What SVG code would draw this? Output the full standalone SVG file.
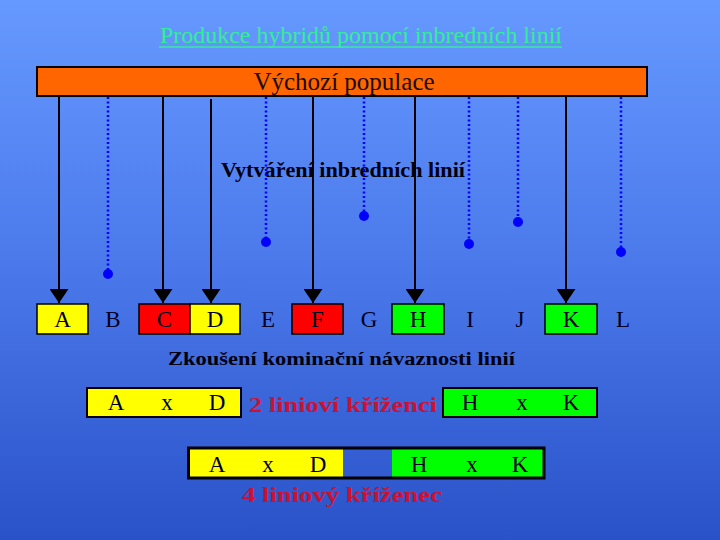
<svg xmlns="http://www.w3.org/2000/svg" width="720" height="540" viewBox="0 0 720 540">
<defs>
<linearGradient id="bg" x1="0" y1="0" x2="0" y2="1">
<stop offset="0" stop-color="#6699ff"/>
<stop offset="0.5" stop-color="#4a78ea"/>
<stop offset="1" stop-color="#2a52c8"/>
</linearGradient>
<marker id="arr" markerUnits="userSpaceOnUse" viewBox="0 0 14 19" refX="14" refY="9.5" markerWidth="14" markerHeight="19" orient="auto">
<path d="M0,0 L14,9.5 L0,19 z" fill="#000"/>
</marker>
</defs>
<style>
.serif{font-family:"Liberation Serif","Times New Roman",serif}
.lt{font-family:"Liberation Serif",serif;font-size:23px;fill:#000022;text-anchor:middle}
.bx{stroke:#000;stroke-width:1.5}
.solid{stroke:#000;stroke-width:2;fill:none;marker-end:url(#arr)}
.dot{stroke:#0000ff;stroke-width:2.5;stroke-dasharray:2 2.5;fill:none}
.end{fill:#0000ff}
.bold{font-family:"Liberation Serif",serif;font-weight:bold;fill:#000011}
.red{font-family:"Liberation Serif",serif;font-weight:bold;font-size:20px;fill:#cc1133}
</style>
<rect width="720" height="540" fill="url(#bg)"/>

<g id="title">
<text class="serif" x="160" y="43" font-size="24" fill="#33ee99" textLength="402" lengthAdjust="spacingAndGlyphs">Produkce hybridů pomocí inbredních linií</text>
<line x1="159" y1="47" x2="562" y2="47" stroke="#33ee99" stroke-width="1.5"/>
</g>

<g id="population">
<rect x="37" y="67" width="610" height="29" fill="#ff6600" stroke="#000" stroke-width="2"/>
<text class="serif" x="344" y="90" font-size="25" fill="#1a0a00" text-anchor="middle">Výchozí populace</text>
</g>

<g id="label-inbred">
<text class="bold" x="221" y="177" font-size="20" textLength="244" lengthAdjust="spacingAndGlyphs">Vytváření inbredních linií</text>
</g>

<g id="connectors">
<line class="solid" x1="59" y1="96" x2="59" y2="303"/>
<line class="solid" x1="163" y1="97" x2="163" y2="303"/>
<line class="solid" x1="211" y1="99" x2="211" y2="303"/>
<line class="solid" x1="313" y1="97" x2="313" y2="303"/>
<line class="solid" x1="415" y1="96" x2="415" y2="303"/>
<line class="solid" x1="566" y1="96" x2="566" y2="303"/>
<line class="dot" x1="108" y1="97" x2="108" y2="270"/>
<circle class="end" cx="108" cy="274" r="5"/>
<line class="dot" x1="266" y1="97" x2="266" y2="238"/>
<circle class="end" cx="266" cy="242" r="5"/>
<line class="dot" x1="364" y1="97" x2="364" y2="212"/>
<circle class="end" cx="364" cy="216" r="5"/>
<line class="dot" x1="469" y1="97" x2="469" y2="240"/>
<circle class="end" cx="469" cy="244" r="5"/>
<line class="dot" x1="518" y1="97" x2="518" y2="218"/>
<circle class="end" cx="518" cy="222" r="5"/>
<line class="dot" x1="621" y1="97" x2="621" y2="248"/>
<circle class="end" cx="621" cy="252" r="5"/>
</g>

<g id="line-A"><rect class="bx" x="37" y="304" width="51" height="30" fill="#ffff00"/><text class="lt" x="62.5" y="327">A</text></g>
<g id="line-B"><text class="lt" x="113" y="327">B</text></g>
<g id="line-C"><rect class="bx" x="139" y="304" width="51" height="30" fill="#ff0000"/><text class="lt" x="164.5" y="327">C</text></g>
<g id="line-D"><rect class="bx" x="190" y="304" width="50" height="30" fill="#ffff00"/><text class="lt" x="215" y="327">D</text></g>
<g id="line-E"><text class="lt" x="268" y="327">E</text></g>
<g id="line-F"><rect class="bx" x="292" y="304" width="51" height="30" fill="#ff0000"/><text class="lt" x="317.5" y="327">F</text></g>
<g id="line-G"><text class="lt" x="369" y="327">G</text></g>
<g id="line-H"><rect class="bx" x="392" y="304" width="52" height="30" fill="#00ff00"/><text class="lt" x="418" y="327">H</text></g>
<g id="line-I"><text class="lt" x="470" y="327">I</text></g>
<g id="line-J"><text class="lt" x="520" y="327">J</text></g>
<g id="line-K"><rect class="bx" x="545" y="304" width="52" height="30" fill="#00ff00"/><text class="lt" x="571" y="327">K</text></g>
<g id="line-L"><text class="lt" x="623" y="327">L</text></g>

<g id="label-test">
<text class="bold" x="168" y="365" font-size="18" textLength="347" lengthAdjust="spacingAndGlyphs">Zkoušení kominační návaznosti linií</text>
</g>

<g id="cross-AD">
<rect x="87" y="388" width="154" height="29" fill="#ffff00" stroke="#000" stroke-width="2"/>
<text class="lt" x="116" y="410">A</text><text class="lt" x="167" y="410">x</text><text class="lt" x="217" y="410">D</text>
</g>
<g id="label-2">
<text class="red" x="249" y="412" textLength="188" lengthAdjust="spacingAndGlyphs">2 linioví kříženci</text>
</g>
<g id="cross-HK">
<rect x="443" y="388" width="154" height="29" fill="#00ff00" stroke="#000" stroke-width="2"/>
<text class="lt" x="470" y="410">H</text><text class="lt" x="522" y="410">x</text><text class="lt" x="571" y="410">K</text>
</g>

<g id="cross-4">
<rect x="189.5" y="448.5" width="153.5" height="29" fill="#ffff00"/>
<rect x="392" y="448.5" width="151.5" height="29" fill="#00ff00"/>
<rect x="188.5" y="448" width="355.5" height="30" fill="none" stroke="#000" stroke-width="3"/>
<text class="lt" x="217" y="472">A</text><text class="lt" x="268" y="472">x</text><text class="lt" x="318" y="472">D</text>
<text class="lt" x="419" y="472">H</text><text class="lt" x="472" y="472">x</text><text class="lt" x="520" y="472">K</text>
</g>
<g id="label-4">
<text class="red" x="242" y="502" textLength="200" lengthAdjust="spacingAndGlyphs">4 liniový kříženec</text>
</g>
</svg>
